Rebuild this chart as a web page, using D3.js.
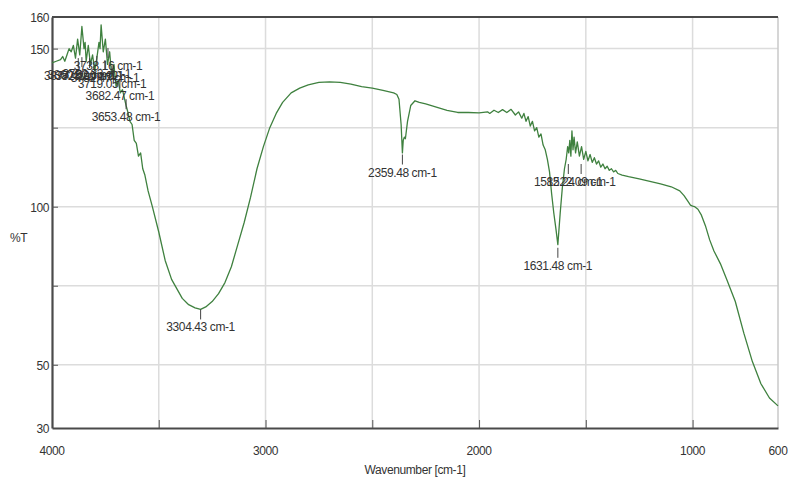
<!DOCTYPE html>
<html>
<head>
<meta charset="utf-8">
<script src="https://cdn.jsdelivr.net/npm/d3@7"></script>
<style>
  body { margin: 0; background: #fff; }
  text { font-family: "Liberation Sans Narrow", "Arial Narrow", "Liberation Sans", sans-serif; fill: #333; letter-spacing: -0.4px; }
</style>
</head>
<body>
<div id="chart"></div>
<script>
// spectrum
var wavenumber = [4000,3980,3960,3950,3940,3930,3920,3910,3900,3890,3880,3870,3860,3850,3845,3840,3830,3820,3810,3800,
  3790,3780,3775,3770,3760,3750,3740,3730,3720,3710,3700,3690,3680,3670,3660,3653,3645,3635,3625,3615,3605,3595,3585,3575,
  3565,3550,3530,3500,3470,3440,3415,3390,3360,3330,3304,3280,3250,3220,3190,3160,3130,3100,3070,3040,3010,2980,2950,2920,
  2880,2840,2800,2750,2700,2650,2600,2550,2500,2450,2400,2385,2375,2365,2359,2355,2350,2345,2335,2320,2300,2280,2250,2200,
  2150,2100,2050,2000,1960,1950,1930,1910,1890,1870,1850,1830,1815,1800,1790,1780,1770,1760,1750,1740,1730,1720,1710,1700,
  1690,1680,1670,1660,1650,1640,1631,1620,1610,1600,1592,1585,1580,1575,1570,1565,1560,1555,1548,1540,1530,1520,1510,1500,
  1490,1480,1470,1460,1450,1440,1430,1420,1410,1400,1390,1380,1370,1360,1350,1330,1300,1250,1200,1150,1100,1060,1040,1020,
  1010,1000,990,975,960,940,920,900,870,840,800,760,720,680,640,600];
var transmittance = [145.5,146,146.5,147.5,146,148,150,149,151,147,153,148,157,150,152,146,151,145,148,143,
  147,152,150,157.5,149,153,145,149,141,145,138,140,136,137,134,132,130,127,126,121,120,116,117,112,
  110,105,100,92,83,77,74,71,69,68,67.5,68.3,70,72.5,76,81,88,95,103,112,119,125,129.5,133,
  136,137.5,138.5,139.3,139.5,139.3,138.8,138,137.5,136.8,136,135.5,134,126,117,121,122,121.5,127,132,133.5,133,132.5,131.5,
  130.5,129.8,129.8,129.7,130,129.5,130.5,129.8,130.7,129.8,130.8,129,130,128,129.5,127,128.5,125.5,127,124,125,122,123,119.5,
  118,115,111,104,98,93,88,98,106,112,115,119,117,121,116,124,118,122,117,120.5,116,119,115,117.5,
  114.5,116.5,114,115.5,113.5,114.5,112.5,113.5,112,112.8,111.5,112,111,111.5,110.5,110,109.5,108.8,108,107.2,106.3,105,103.5,101.5,
  100.5,100.2,100,99.2,97.5,94,89.5,86,82,77,70,60,51,44,39.5,37];

// peak labels
var peakWn = [3738,3877,3860,3824,3790,3752,3719,3682,3653,3304,2359,1631,1582,1522];
var peakT = [150.2,147,147.3,147,147.7,146.4,144.5,140.7,134,67.5,116.5,87,113.5,113.5];
var peakText = ["3738.16 cm-1","3877.41 cm-1","3860.52 cm-1","3823.90 cm-1","3790.33 cm-1","3752.47 cm-1",
  "3719.05 cm-1","3682.47 cm-1","3653.48 cm-1","3304.43 cm-1","2359.48 cm-1","1631.48 cm-1","1582.24 cm-1","1522.09 cm-1"];

var xTickLabels = [4000,3000,2000,1000,600];
var xGrid = [3500,3000,2500,2000,1500,1000];
var yTickLabels = [160,150,100,50,30];
var yGrid = [150,125,100,75,50];

// layout
var W = 788, H = 485;
var padL = 52, padR = 778, padT = 17, padB = 428;
var lineCol = "#3f813f";

var svg = d3.select("#chart").append("svg")
  .attr("width", W)
  .attr("height", H);

var x = d3.scaleLinear().domain([4000, 600]).range([padL, padR]);
var y = d3.scaleLinear().domain([30, 160]).range([padB, padT]);

// gridlines
svg.append("g").selectAll("line").data(xGrid).join("line")
  .attr("x1", d => x(d)).attr("x2", d => x(d))
  .attr("y1", padT).attr("y2", padB)
  .style("stroke", "#dcdcdc").style("stroke-width", 1.5);
svg.append("g").selectAll("line").data(yGrid).join("line")
  .attr("x1", padL).attr("x2", padR)
  .attr("y1", d => y(d)).attr("y2", d => y(d))
  .style("stroke", "#dcdcdc").style("stroke-width", 1.5);

// right border is light, the others dark
svg.append("line")
  .attr("x1", padR).attr("x2", padR).attr("y1", padT).attr("y2", padB)
  .style("stroke", "#c8c8c8").style("stroke-width", 1.5);
svg.append("line")
  .attr("x1", padL).attr("x2", padR).attr("y1", padT).attr("y2", padT)
  .style("stroke", "#4a4a4a").style("stroke-width", 2);

// axes
var xAxis = d3.axisBottom(x).tickValues(xGrid).tickSize(-8).tickSizeOuter(0).tickFormat("");
var gx = svg.append("g").attr("transform", "translate(0," + padB + ")").call(xAxis);
gx.select(".domain").style("stroke", "#4a4a4a").style("stroke-width", 2.2);
gx.selectAll(".tick line").style("stroke", "#555");

var yAxis = d3.axisLeft(y).tickValues(yGrid).tickSize(-6).tickSizeOuter(0).tickFormat("");
var gy = svg.append("g").attr("transform", "translate(" + padL + ",0)").call(yAxis);
gy.select(".domain").style("stroke", "#4a4a4a").style("stroke-width", 2.2);
gy.selectAll(".tick line").style("stroke", "#555");

// tick labels
svg.append("g").selectAll("text").data(xTickLabels).join("text")
  .attr("x", d => x(d)).attr("y", padB + 27)
  .attr("text-anchor", "middle")
  .style("font-size", "12px")
  .text(d => d);
svg.append("g").selectAll("text").data(yTickLabels).join("text")
  .attr("x", padL - 3).attr("y", d => y(d) + 5)
  .attr("text-anchor", "end")
  .style("font-size", "12px")
  .text(d => d);

svg.append("text")
  .attr("x", 415).attr("y", 474)
  .attr("text-anchor", "middle")
  .style("font-size", "12px")
  .text("Wavenumber [cm-1]");
svg.append("text")
  .attr("x", 10).attr("y", 242)
  .style("font-size", "12px")
  .text("%T");

// spectrum
var pts = wavenumber.map((w, i) => [w, transmittance[i]]);
var line = d3.line().x(d => x(d[0])).y(d => y(d[1]));
svg.append("path")
  .datum(pts)
  .attr("d", line)
  .style("fill", "none")
  .style("stroke", lineCol)
  .style("stroke-width", 1.3)
  .style("stroke-linejoin", "round");

// peak markers + labels
var peaks = peakWn.map((w, i) => ({w: w, t: peakT[i], s: peakText[i]}));
svg.append("g").selectAll("line").data(peaks).join("line")
  .attr("x1", d => x(d.w)).attr("x2", d => x(d.w))
  .attr("y1", d => y(d.t)).attr("y2", d => y(d.t) + 10)
  .style("stroke", "#444").style("stroke-width", 1);
svg.append("g").selectAll("text").data(peaks).join("text")
  .attr("x", d => x(d.w)).attr("y", d => y(d.t) + 22)
  .attr("text-anchor", "middle")
  .style("font-size", "12px")
  .text(d => d.s);
</script>
</body>
</html>
